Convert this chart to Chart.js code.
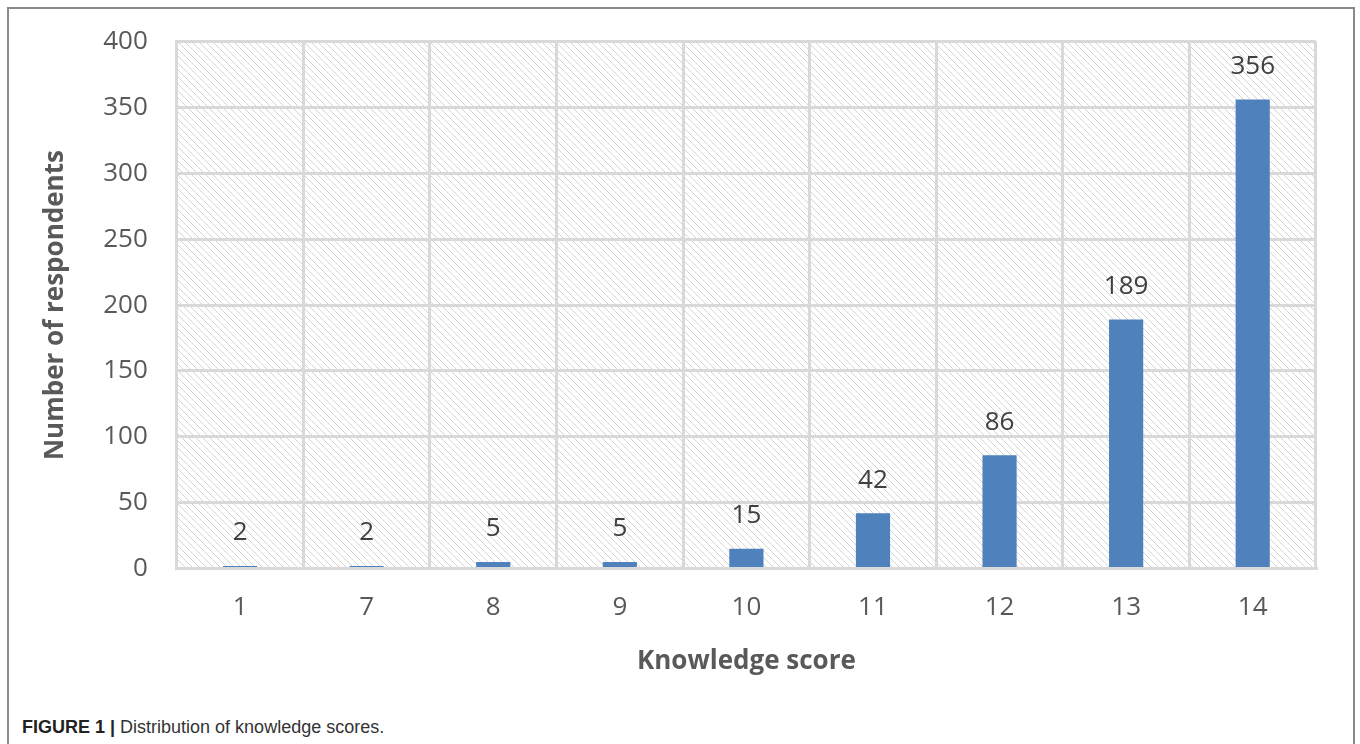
<!DOCTYPE html>
<html>
<head>
<meta charset="utf-8">
<script src="https://cdn.jsdelivr.net/npm/chart.js@4/dist/chart.umd.min.js"></script>
<style>
  html, body { margin: 0; padding: 0; background: #fff; width: 1360px; height: 744px; overflow: hidden; }
  #frame { position: absolute; left: 7px; top: 7px; width: 1348px; height: 760px; border-left: 2px solid #8a8a8a; border-top: 2px solid #8a8a8a; border-right: 2px solid #8a8a8a; box-sizing: border-box; }
  #wrap { position: absolute; left: 0; top: -3px; width: 1360px; height: 703px; }
  #caption { position: absolute; left: 22px; top: 717px; font-family: "Liberation Sans", Arial, sans-serif; font-size: 18px; color: #333; white-space: nowrap; }
  #caption b { color: #222; }
</style>
</head>
<body>
<div id="frame"></div>
<div id="wrap"><canvas id="c"></canvas></div>
<div id="caption"><b>FIGURE 1 |</b> Distribution of knowledge scores.</div>
<script>
const categories = ["1", "7", "8", "9", "10", "11", "12", "13", "14"];
const respondents = [2, 2, 5, 5, 15, 42, 86, 189, 356];
const yTickMin = 0, yTickMax = 400, yTickStep = 50;
const xTitle = "Knowledge score";
const yTitle = "Number of respondents";

function makeHatch() {
  const s = 7;
  const t = document.createElement('canvas');
  t.width = s; t.height = s;
  const g = t.getContext('2d');
  g.strokeStyle = 'rgba(120,120,120,0.32)';
  g.lineWidth = 1;
  g.beginPath();
  g.moveTo(-1, -1); g.lineTo(s + 1, s + 1);
  g.moveTo(-1 - s, -1); g.lineTo(1, s + 1);
  g.moveTo(s - 1, -1); g.lineTo(2 * s + 1, s + 1);
  g.stroke();
  return g.createPattern(t, 'repeat');
}

const hatchPlugin = {
  id: 'hatch',
  beforeDraw(chart) {
    const { ctx, chartArea: a } = chart;
    ctx.save();
    ctx.fillStyle = makeHatch();
    ctx.fillRect(a.left, a.top, a.right - a.left, a.bottom - a.top);
    ctx.restore();
  }
};

const labelPlugin = {
  id: 'vals',
  afterDatasetsDraw(chart) {
    const { ctx } = chart;
    const meta = chart.getDatasetMeta(0);
    ctx.save();
    ctx.font = '26px "Open Sans"';
    ctx.fillStyle = '#404040';
    ctx.textAlign = 'center';
    ctx.textBaseline = 'middle';
    meta.data.forEach((el, i) => {
      ctx.fillText(String(respondents[i]), el.x, el.y - 33);
    });
    ctx.restore();
  }
};

new Chart(document.getElementById('c'), {
  type: 'bar',
  data: {
    labels: categories,
    datasets: [{
      data: respondents,
      backgroundColor: '#4F81BD',
      borderWidth: 0,
      barPercentage: 0.27,
      categoryPercentage: 1.0
    }]
  },
  options: {
    responsive: true,
    maintainAspectRatio: false,
    animation: false,
    layout: { padding: { left: 40, right: 44, top: 35, bottom: 23 } },
    plugins: { legend: { display: false }, tooltip: { enabled: false } },
    scales: {
      x: {
        grid: { color: '#d9d9d9', lineWidth: 3, drawTicks: false, offset: true },
        border: { color: '#d9d9d9', width: 3 },
        ticks: { color: '#595959', font: { family: 'Open Sans', size: 26 }, padding: 23 },
        title: { display: true, text: xTitle, color: '#595959', font: { family: 'Open Sans', size: 26, weight: 'bold' }, padding: { top: 0, bottom: 0 } }
      },
      y: {
        min: yTickMin, max: yTickMax,
        grid: { color: '#d9d9d9', lineWidth: 3, drawTicks: false },
        border: { color: '#d9d9d9', width: 3 },
        ticks: { stepSize: yTickStep, color: '#595959', font: { family: 'Open Sans', size: 26 }, padding: 29 },
        title: { display: true, text: yTitle, color: '#595959', font: { family: 'Open Sans', size: 26, weight: 'bold' }, padding: { top: 0, bottom: 3 } }
      }
    }
  },
  plugins: [hatchPlugin, labelPlugin]
});
</script>
</body>
</html>
